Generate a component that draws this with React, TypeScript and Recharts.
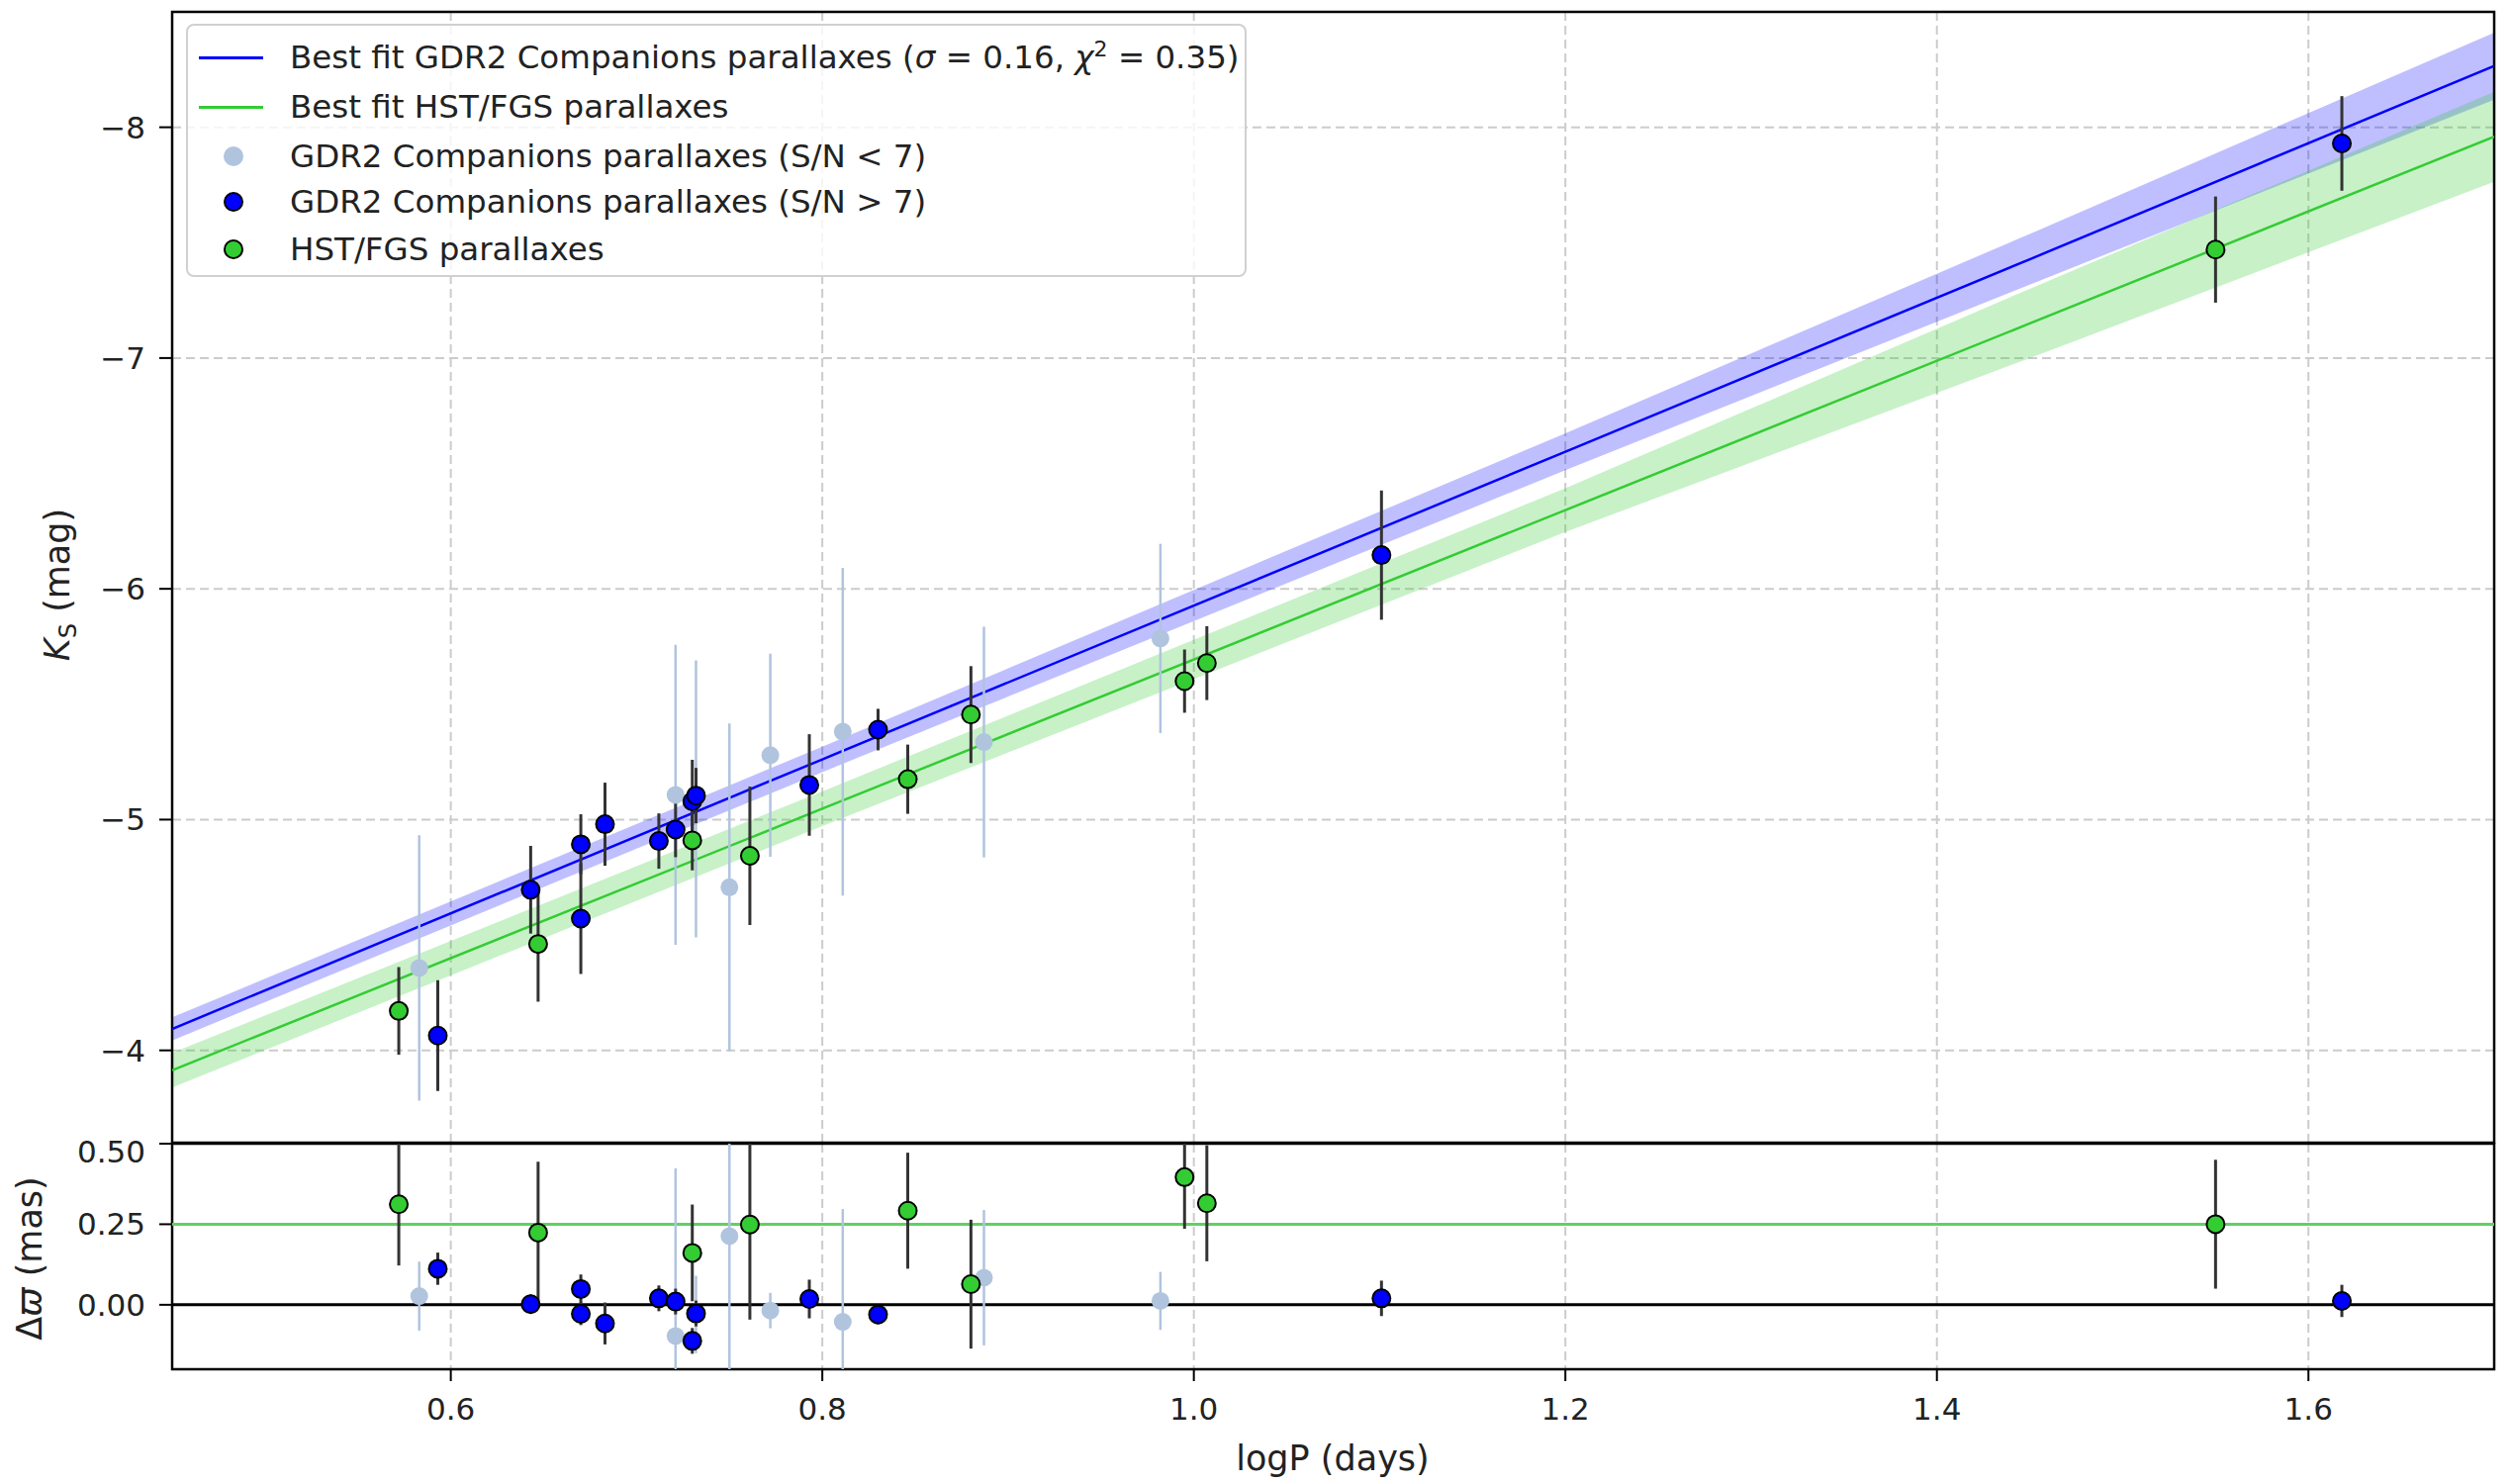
import React from 'react'
import {
  ComposedChart, Scatter, Line, Area, XAxis, YAxis, CartesianGrid,
  ErrorBar, ReferenceLine, ReferenceArea,
} from 'recharts'

// axes
const xDomain = [0.45, 1.7]
const xTicks = [0.6, 0.8, 1.0, 1.2, 1.4, 1.6]
const ksDomain = [-8.5, -3.6]
const ksTicks = [-8, -7, -6, -5, -4]
const dwDomain = [-0.2, 0.5]
const dwTicks = [0, 0.25, 0.5]

// GDR2 companions, S/N < 7
const lowX = [0.583, 0.721, 0.732, 0.75, 0.772, 0.811, 0.887, 0.982]
const lowKs = [-4.357, -5.107, -5.09, -4.707, -5.279, -5.381, -5.336, -5.785]
const lowKsErr = [0.575, 0.65, 0.6, 0.71, 0.44, 0.71, 0.5, 0.41]
const lowDw = [0.027, -0.097, -0.03, 0.213, -0.018, -0.053, 0.084, 0.012]
const lowDwErr = [0.107, 0.52, 0.12, 0.7, 0.055, 0.35, 0.21, 0.09]

// GDR2 companions, S/N > 7
const highX = [0.593, 0.643, 0.67, 0.67, 0.683, 0.712, 0.721, 0.73, 0.732, 0.793, 0.83, 1.101, 1.618]
const highKs = [-4.064, -4.696, -4.893, -4.571, -4.98, -4.907, -4.957, -5.079, -5.104, -5.15, -5.39, -6.146, -7.93]
const highKsErr = [0.24, 0.19, 0.13, 0.24, 0.18, 0.12, 0.12, 0.18, 0.12, 0.22, 0.09, 0.28, 0.205]
const highDw = [0.112, 0.002, 0.049, -0.028, -0.058, 0.02, 0.01, -0.112, -0.027, 0.018, -0.03, 0.02, 0.012]
const highDwErr = [0.05, 0.03, 0.045, 0.035, 0.065, 0.04, 0.04, 0.04, 0.04, 0.06, 0.03, 0.055, 0.05]

// HST/FGS
const hstX = [0.572, 0.647, 0.73, 0.761, 0.846, 0.88, 0.995, 1.007, 1.55]
const hstKs = [-4.171, -4.461, -4.91, -4.843, -5.175, -5.455, -5.6, -5.678, -7.47]
const hstKsErr = [0.19, 0.25, 0.13, 0.3, 0.15, 0.21, 0.137, 0.16, 0.23]
const hstDw = [0.312, 0.224, 0.161, 0.249, 0.292, 0.064, 0.396, 0.315, 0.25]
const hstDwErr = [0.19, 0.22, 0.15, 0.295, 0.18, 0.2, 0.16, 0.18, 0.2]

// best fits + spread bands
const fitX = [0.45, 0.8, 1.2, 1.45, 1.7]
const gdr2Fit = [-4.093, -5.261, -6.594, -7.428, -8.266]
const gdr2Lo = [-4.143, -5.316, -6.674, -7.538, -8.41]
const gdr2Hi = [-4.043, -5.206, -6.514, -7.318, -8.12]
const hstFit = [-3.914, -5.047, -6.341, -7.15, -7.959]
const hstLo = [-3.989, -5.122, -6.436, -7.3, -8.154]
const hstHi = [-3.839, -4.972, -6.246, -7.0, -7.764]

// residual panel reference levels
const dwZero = 0
const hstOffset = 0.25

const BLUE = '#0000ff'
const GREEN = '#33cc33'
const LIGHT = '#b0c4de'
const INK = '#222'

// plot boxes in chart pixels (used to cut error bars at the frame)
const PLOT_L = 174
const PLOT_W = 2347
const TOP_Y = 12
const TOP_H = 1144
const BOT_Y = 10
const BOT_H = 228

const pts = (xs: number[], ys: number[], es: number[]) =>
  xs.map((x, i) => ({ x, y: ys[i], err: es[i] }))

const fitData = fitX.map((x, i) => ({
  x,
  gdr2: gdr2Fit[i],
  gdr2Band: [gdr2Lo[i], gdr2Hi[i]],
  hst: hstFit[i],
  hstBand: [hstLo[i], hstHi[i]],
}))

const lowTop = pts(lowX, lowKs, lowKsErr)
const highTop = pts(highX, highKs, highKsErr)
const hstTop = pts(hstX, hstKs, hstKsErr)
const lowBot = pts(lowX, lowDw, lowDwErr)
const highBot = pts(highX, highDw, highDwErr)
const hstBot = pts(hstX, hstDw, hstDwErr)

const lightDot = (p: any) => <circle cx={p.cx} cy={p.cy} r={9} fill={LIGHT} />
const blueDot = (p: any) => <circle cx={p.cx} cy={p.cy} r={9} fill={BLUE} stroke="#000" strokeWidth={2} />
const greenDot = (p: any) => <circle cx={p.cx} cy={p.cy} r={9} fill={GREEN} stroke="#000" strokeWidth={2} />

const tickFont = { fontSize: 31, fill: INK }
const minus = (v: number) => (v < 0 ? `\u2212${Math.abs(v)}` : `${v}`)
const noTick = () => <g />

const KsLabel = () => (
  <text transform="translate(70,591) rotate(-90)" textAnchor="middle" fontSize={35} fill={INK}>
    <tspan fontStyle="italic">K</tspan>
    <tspan fontSize={24} dy={7}>S</tspan>
    <tspan dy={-7}> (mag)</tspan>
  </text>
)

const DwLabel = () => (
  <text transform="translate(42,126) rotate(-90)" textAnchor="middle" fontSize={35} fill={INK}>
    Δ<tspan fontStyle="italic">ϖ</tspan> (mas)
  </text>
)

const XLabel = () => (
  <text x={1347} y={340} textAnchor="middle" fontSize={35} fill={INK}>logP (days)</text>
)

const legendRows = [
  { kind: 'line', color: BLUE, top: 32 },
  { kind: 'line', color: GREEN, top: 82 },
  { kind: 'dot', color: LIGHT, top: 132 },
  { kind: 'dot', color: BLUE, top: 178 },
  { kind: 'dot', color: GREEN, top: 226 },
]

function LegendBox() {
  const labels: React.ReactNode[] = [
    <>Best fit GDR2 Companions parallaxes (<i>σ</i> = 0.16, <i>χ</i><sup style={{ fontSize: 22, lineHeight: 0 }}>2</sup> = 0.35)</>,
    'Best fit HST/FGS parallaxes',
    'GDR2 Companions parallaxes (S/N < 7)',
    'GDR2 Companions parallaxes (S/N > 7)',
    'HST/FGS parallaxes',
  ]
  return (
    <div style={{
      position: 'absolute', left: 188, top: 24, width: 1072, height: 256,
      border: '2px solid #d0d0d0', borderRadius: 8, boxSizing: 'border-box',
      background: 'rgba(255,255,255,0.8)', color: INK, fontSize: 32.5,
    }}>
      {legendRows.map((r, i) => (
        <div key={i} style={{ position: 'absolute', left: 0, top: r.top - 22, height: 44, width: '100%' }}>
          {r.kind === 'line' ? (
            <div style={{ position: 'absolute', left: 11, top: 21, width: 65, height: 3, background: r.color }} />
          ) : (
            <div style={{
              position: 'absolute', left: 36, top: 12, width: 20, height: 20, borderRadius: '50%',
              background: r.color, boxSizing: 'border-box',
              border: r.color === LIGHT ? 'none' : '2px solid #000',
            }} />
          )}
          <div style={{ position: 'absolute', left: 103, top: 0, height: 44, lineHeight: '44px', whiteSpace: 'nowrap' }}>
            {labels[i]}
          </div>
        </div>
      ))}
    </div>
  )
}

export default function App() {
  return (
    <div style={{
      position: 'absolute', left: 0, top: 0, width: 2539, height: 1500,
      background: '#fff', fontFamily: '"DejaVu Sans", sans-serif',
    }}>
      <svg width={0} height={0} style={{ position: 'absolute' }}>
        <defs>
          <clipPath id="clip-ks" clipPathUnits="userSpaceOnUse">
            <rect x={PLOT_L} y={TOP_Y} width={PLOT_W} height={TOP_H} />
          </clipPath>
          <clipPath id="clip-dw" clipPathUnits="userSpaceOnUse">
            <rect x={PLOT_L} y={BOT_Y} width={PLOT_W} height={BOT_H} />
          </clipPath>
        </defs>
      </svg>

      {/* Ks vs logP */}
      <div style={{ position: 'absolute', left: 0, top: 0 }}>
        <ComposedChart width={2539} height={1160} margin={{ top: TOP_Y, right: 18, bottom: 4, left: 54 }}>
          <CartesianGrid stroke="#cccccc" strokeWidth={2} strokeDasharray="9 5" />
          <XAxis
            type="number" dataKey="x" domain={xDomain} ticks={xTicks} allowDataOverflow
            tick={noTick} tickLine={false} axisLine={false} height={1}
          />
          <YAxis
            type="number" domain={ksDomain} ticks={ksTicks} reversed allowDataOverflow width={120}
            tick={tickFont} tickFormatter={minus} tickSize={13} tickMargin={14}
            tickLine={{ stroke: '#000', strokeWidth: 2 }} axisLine={false}
            label={<KsLabel />}
          />
          <Area data={fitData} dataKey="gdr2Band" stroke="none" fill={BLUE} fillOpacity={0.25} isAnimationActive={false} />
          <Area data={fitData} dataKey="hstBand" stroke="none" fill={GREEN} fillOpacity={0.27} isAnimationActive={false} />
          <Line data={fitData} dataKey="gdr2" stroke={BLUE} strokeWidth={2.5} dot={false} isAnimationActive={false} />
          <Line data={fitData} dataKey="hst" stroke={GREEN} strokeWidth={2.5} dot={false} isAnimationActive={false} />
          <Scatter data={lowTop} dataKey="y" shape={lightDot} isAnimationActive={false}>
            <ErrorBar dataKey="err" direction="y" width={0} stroke={LIGHT} strokeWidth={2.5} clipPath="url(#clip-ks)" />
          </Scatter>
          <Scatter data={highTop} dataKey="y" shape={blueDot} isAnimationActive={false}>
            <ErrorBar dataKey="err" direction="y" width={0} stroke="#333" strokeWidth={3} clipPath="url(#clip-ks)" />
          </Scatter>
          <Scatter data={hstTop} dataKey="y" shape={greenDot} isAnimationActive={false}>
            <ErrorBar dataKey="err" direction="y" width={0} stroke="#333" strokeWidth={3} clipPath="url(#clip-ks)" />
          </Scatter>
          <ReferenceArea x1={xDomain[0]} x2={xDomain[1]} y1={ksDomain[0]} y2={ksDomain[1]}
            fill="none" stroke="#000" strokeWidth={2.5} />
        </ComposedChart>
      </div>

      {/* parallax residuals */}
      <div style={{ position: 'absolute', left: 0, top: 1146 }}>
        <ComposedChart width={2539} height={354} margin={{ top: BOT_Y, right: 18, bottom: 0, left: 54 }}>
          <CartesianGrid stroke="#cccccc" strokeWidth={2} strokeDasharray="9 5" horizontal={false} />
          <XAxis
            type="number" dataKey="x" domain={xDomain} ticks={xTicks} allowDataOverflow height={116}
            tick={tickFont} tickFormatter={(v: number) => v.toFixed(1)} tickSize={12} tickMargin={17}
            tickLine={{ stroke: '#000', strokeWidth: 2 }} axisLine={false}
            label={<XLabel />}
          />
          <YAxis
            type="number" domain={dwDomain} ticks={dwTicks} allowDataOverflow width={120}
            tick={tickFont} tickFormatter={(v: number) => v.toFixed(2)} tickSize={13} tickMargin={14}
            tickLine={{ stroke: '#000', strokeWidth: 2 }} axisLine={false}
            label={<DwLabel />}
          />
          <ReferenceLine y={dwZero} stroke="#000" strokeWidth={3} />
          <ReferenceLine y={hstOffset} stroke="#5fd35f" strokeWidth={3} />
          <Scatter data={lowBot} dataKey="y" shape={lightDot} isAnimationActive={false}>
            <ErrorBar dataKey="err" direction="y" width={0} stroke={LIGHT} strokeWidth={2.5} clipPath="url(#clip-dw)" />
          </Scatter>
          <Scatter data={highBot} dataKey="y" shape={blueDot} isAnimationActive={false}>
            <ErrorBar dataKey="err" direction="y" width={0} stroke="#333" strokeWidth={3} clipPath="url(#clip-dw)" />
          </Scatter>
          <Scatter data={hstBot} dataKey="y" shape={greenDot} isAnimationActive={false}>
            <ErrorBar dataKey="err" direction="y" width={0} stroke="#333" strokeWidth={3} clipPath="url(#clip-dw)" />
          </Scatter>
          <ReferenceArea x1={xDomain[0]} x2={xDomain[1]} y1={dwDomain[0]} y2={dwDomain[1]}
            fill="none" stroke="#000" strokeWidth={2.5} />
        </ComposedChart>
      </div>

      <LegendBox />
    </div>
  )
}
